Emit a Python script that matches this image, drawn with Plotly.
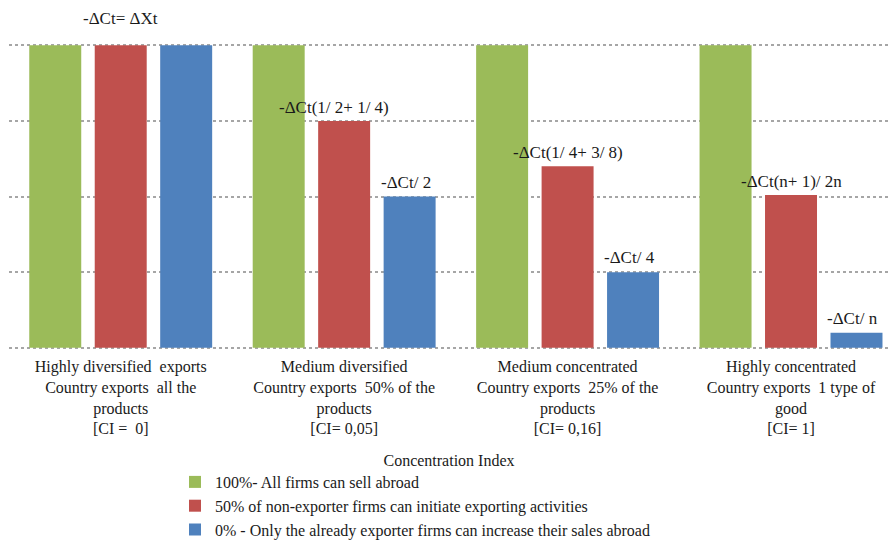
import plotly.graph_objects as go

categories = [
    "Highly diversified  exports<br>Country exports  all the<br>products<br>[CI =  0]",
    "Medium diversified<br>Country exports  50% of the<br>products<br>[CI= 0,05]",
    "Medium concentrated<br>Country exports  25% of the<br>products<br>[CI= 0,16]",
    "Highly concentrated<br>Country exports  1 type of<br>good<br>[CI= 1]",
]
series_names = [
    "100%- All firms can sell abroad",
    "50% of non-exporter firms can initiate exporting activities",
    "0% - Only the already exporter firms can increase their sales abroad",
]
green_vals = [1.0, 1.0, 1.0, 1.0]
red_vals = [1.0, 0.75, 0.60, 0.505]
blue_vals = [1.0, 0.5, 0.25, 0.05]
red_labels = ["-ΔCt= ΔXt", "-ΔCt(1/ 2+ 1/ 4)", "-ΔCt(1/ 4+ 3/ 8)", "-ΔCt(n+ 1)/ 2n"]
blue_labels = ["", "-ΔCt/ 2", "-ΔCt/ 4", "-ΔCt/ n"]
colors = ["#9BBB59", "#C0504D", "#4F81BD"]

FONT = "Liberation Serif"
TXT = "#1a1a1a"
fig = go.Figure()
for name, vals, col in zip(series_names, [green_vals, red_vals, blue_vals], colors):
    fig.add_trace(go.Bar(x=list(range(len(categories))), y=vals, name=name,
                         marker=dict(color=col, line=dict(width=0))))

bargap = 0.121
slot = (1 - bargap) / 3
for i, (lab, v) in enumerate(zip(red_labels, red_vals)):
    fig.add_annotation(x=i, y=v, text=lab, showarrow=False, yanchor="bottom",
                       yshift=(15 if i == 0 else 2), xshift=(0 if i in (0, 2, 3) else -10),
                       font=dict(family=FONT, size=17, color=TXT))
for i, (lab, v) in enumerate(zip(blue_labels, blue_vals)):
    if lab:
        fig.add_annotation(x=i + slot, y=v, text=lab, showarrow=False, yanchor="bottom",
                           yshift=3, xshift=-4,
                           font=dict(family=FONT, size=17, color=TXT))

fig.update_layout(
    width=889, height=540,
    barmode="group", bargap=bargap, bargroupgap=0.206,
    plot_bgcolor="white", paper_bgcolor="white",
    margin=dict(l=9, r=0, t=15, b=191, autoexpand=False),
    font=dict(family=FONT, size=16, color=TXT),
    showlegend=True,
    legend=dict(x=(175 - 9) / 880, y=(349 - 465) / 334,
                xanchor="left", yanchor="top", orientation="v",
                font=dict(family=FONT, size=16, color=TXT),
                itemwidth=30, tracegroupgap=0, bgcolor="rgba(0,0,0,0)"),
)
fig.update_xaxes(tickmode="array", tickvals=list(range(len(categories))), ticktext=categories,
                 range=[-0.5, 3.4385], showgrid=False, zeroline=False, showline=False,
                 ticks="", tickangle=0, automargin=False, ticklabelstandoff=6,
                 tickfont=dict(family=FONT, size=16, color=TXT),
                 title=dict(text="Concentration Index", standoff=18,
                            font=dict(family=FONT, size=16, color=TXT)))
fig.update_yaxes(range=[-0.004, 1.1], tickvals=[0, 0.25, 0.5, 0.75, 1.0], showticklabels=False,
                 showgrid=True, gridcolor="#A6A6A6", gridwidth=1.5, griddash="dot",
                 zeroline=False, showline=False, automargin=False)

fig.write_html("out.html")
